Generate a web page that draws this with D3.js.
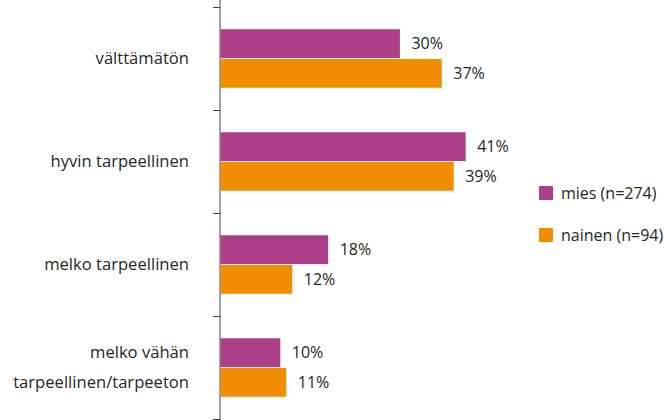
<!DOCTYPE html>
<html><head><meta charset="utf-8">
<script src="https://cdn.jsdelivr.net/npm/d3@7"></script>
<style>body{margin:0;background:#fff}svg{display:block}text{font-family:"Open Sans",sans-serif;fill:#262626}</style>
</head><body><svg id="c" width="668" height="420"></svg>
<script>
const categories = ["välttämätön", "hyvin tarpeellinen", "melko tarpeellinen", "melko vähän\ntarpeellinen/tarpeeton"];
const mies = [30, 41, 18, 10];
const nainen = [37, 39, 12, 11];
const seriesNames = ["mies (n=274)", "nainen (n=94)"];
const colors = ["#AD3E88", "#F18D00"];
const FS = "16px";

const svg = d3.select("#c");
const x = d3.scaleLinear().domain([0, 50]).range([220, 519]);
const y = d3.scaleBand().domain(categories).range([7, 419]);
const sub = d3.scaleBand().domain([0, 1]).range([0, y.bandwidth()]).paddingOuter(0.75).paddingInner(0.03);

// axis
const ag = svg.append("g").attr("transform", "translate(220,0)");
ag.append("line").attr("x1",0).attr("x2",0).attr("y1",0).attr("y2",420).attr("stroke","#404040");
const tickPos = categories.map(c => y(c)).concat([y.range()[1]]);
ag.selectAll("line.t").data(tickPos).join("line").attr("class","t")
  .attr("x1",-7).attr("x2",0).attr("y1",d=>d+0.5).attr("y2",d=>d+0.5).attr("stroke","#404040");

const data = [mies, nainen];
data.forEach((vals, si) => {
  const g = svg.append("g");
  g.selectAll("rect").data(vals).join("rect")
    .attr("x", x(0)+0.5)
    .attr("y", (d,i) => y(categories[i]) + sub(si))
    .attr("width", d => x(d) - x(0))
    .attr("height", sub.bandwidth())
    .attr("fill", colors[si]);
  g.selectAll("text").data(vals).join("text")
    .attr("x", d => x(d) + 12)
    .attr("y", (d,i) => y(categories[i]) + sub(si) + sub.bandwidth()/2)
    .attr("dy", "0.35em")
    .style("font-size", FS)
    .text(d => d + "%");
});

// category labels
categories.forEach(c => {
  const lines = c.split("\n");
  const cy = y(c) + y.bandwidth()/2;
  const t = svg.append("text").attr("text-anchor","end").style("font-size","16.6px");
  lines.forEach((l, i) => {
    t.append("tspan").attr("x", 189)
      .attr("y", cy + (i - (lines.length-1)/2) * 30)
      .attr("dy","0.35em").text(l);
  });
});

// legend
seriesNames.forEach((n, i) => {
  const ly = 186 + i*42;
  svg.append("rect").attr("x",539).attr("y",ly).attr("width",14).attr("height",14).attr("fill",colors[i]);
  svg.append("text").attr("x",561).attr("y",ly+7).attr("dy","0.35em").style("font-size",FS).text(n);
});
</script></body></html>
